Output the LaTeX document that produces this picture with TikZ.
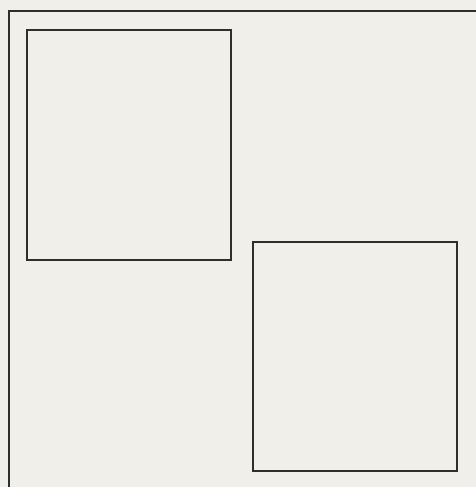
\documentclass[tikz,border=0pt]{standalone}
\usepackage{tikz}
\usetikzlibrary{positioning}
\definecolor{paper}{HTML}{F0EFEA}
\definecolor{ink}{HTML}{2E2E2C}

\begin{document}
\begin{tikzpicture}[x=1pt,y=-1pt,
  panel/.style={draw=ink,line width=1.6pt,inner sep=0pt,outer sep=0pt},
  rule/.style={draw=ink,line width=1.6pt}]

  \fill[paper] (0,0) rectangle (476,487);
  \useasboundingbox (0,0) rectangle (476,487);

  % open outer frame: top and left only
  \coordinate (corner) at (9,11);
  \coordinate (topend) at (476,11);
  \coordinate (leftend) at (9,487);
  \draw[rule] (topend) -- (corner) -- (leftend);

  \node[panel,minimum width=204pt,minimum height=230pt] (upper) at (129,145) {};
  \node[panel,minimum width=204pt,minimum height=229pt] (lower) at (355,356.5) {};
\end{tikzpicture}
\end{document}
